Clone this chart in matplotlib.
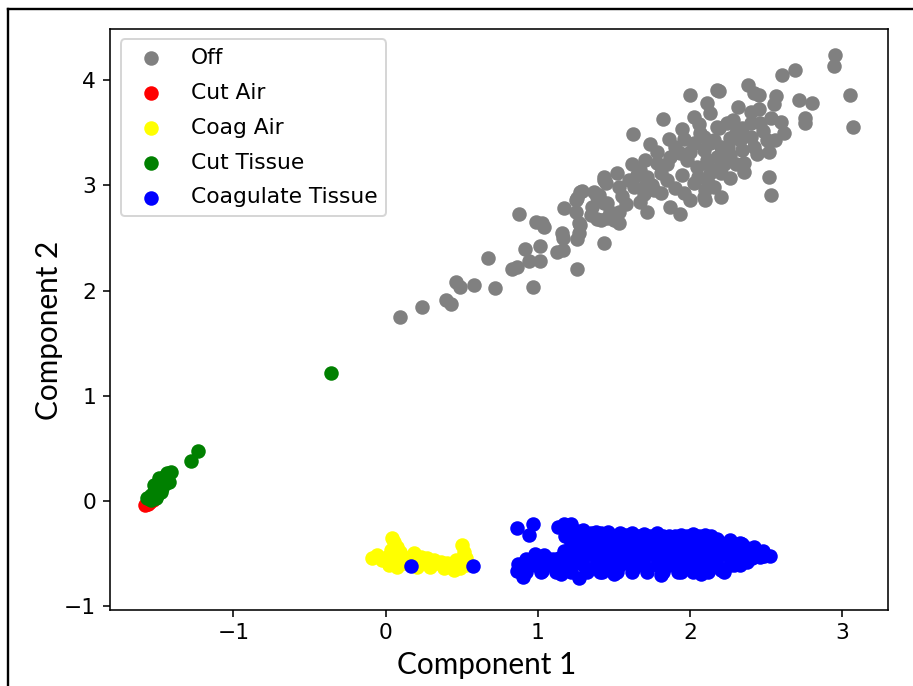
import matplotlib
matplotlib.use("Agg")
import matplotlib.pyplot as plt
from matplotlib.lines import Line2D

# PCA scores (component 1, component 2)
off_pts = [
    (0.094, 1.751), (0.241, 1.846), (0.394, 1.910), (0.427, 1.872), (0.460, 2.084), (0.492, 2.036),
    (0.580, 2.052), (0.722, 2.021), (0.672, 2.306), (0.832, 2.201), (0.860, 2.220), (0.970, 2.036),
    (0.941, 2.280), (1.013, 2.280), (0.919, 2.391), (1.013, 2.423), (0.875, 2.724), (0.985, 2.654),
    (1.039, 2.606), (1.029, 2.638), (1.123, 2.369), (1.167, 2.385), (1.167, 2.496), (1.259, 2.201),
    (1.259, 2.486), (1.171, 2.781), (1.248, 2.749), (1.269, 2.638), (1.280, 2.622), (1.259, 2.876),
    (1.292, 2.948), (1.368, 2.939), (1.401, 2.907), (1.357, 2.796), (1.390, 2.677), (1.433, 2.448),
    (1.433, 3.050), (1.456, 2.829), (1.456, 2.686),
    (1.998, 3.857), (2.178, 3.905), (2.112, 3.784), (2.134, 3.689), (1.823, 3.629), (2.024, 3.646),
    (1.948, 3.532), (1.626, 3.484), (1.740, 3.392), (2.068, 3.494), (2.178, 3.556), (1.904, 3.366),
    (1.937, 3.304), (1.871, 3.271), (1.707, 3.240), (1.784, 3.209), (1.674, 3.145), (1.653, 3.097),
    (1.718, 3.081), (1.806, 3.114), (1.850, 3.050), (1.630, 2.986), (1.696, 2.986), (1.762, 2.955),
    (1.806, 2.924), (1.674, 2.844), (1.714, 2.749), (1.871, 2.796), (1.937, 2.727), (1.959, 2.924),
    (2.024, 3.019), (2.090, 2.891), (2.156, 2.986), (1.981, 3.240), (2.047, 3.176), (2.112, 3.240),
    (2.178, 3.145), (2.024, 3.399), (2.090, 3.335), (2.156, 3.430), (1.532, 2.986), (1.433, 3.081),
    (1.445, 3.019), (1.280, 2.939), (1.248, 2.860), (1.390, 2.891), (1.433, 2.829), (1.477, 2.749),
    (1.532, 2.749), (1.412, 2.670), (1.499, 2.670), (1.532, 2.638), (1.269, 2.543), (1.160, 2.543),
    (2.955, 4.238), (2.944, 4.133), (2.687, 4.095), (2.605, 4.048), (2.381, 3.952), (2.418, 3.874),
    (2.451, 3.857), (2.193, 3.898), (2.567, 3.848), (2.554, 3.772), (2.714, 3.810), (2.802, 3.779),
    (3.049, 3.857), (3.068, 3.556), (2.758, 3.636), (2.758, 3.589), (2.313, 3.746), (2.451, 3.722),
    (2.532, 3.636), (2.462, 3.589), (2.397, 3.589), (2.342, 3.541), (2.244, 3.589), (2.188, 3.541),
    (2.615, 3.494), (2.561, 3.430), (2.506, 3.430), (2.517, 3.319), (2.418, 3.366), (2.331, 3.430),
    (2.265, 3.446), (2.200, 3.366), (2.134, 3.399), (2.090, 3.461), (2.353, 3.209), (2.353, 3.129),
    (2.265, 3.287), (2.178, 3.271), (2.112, 3.209), (2.134, 3.114), (2.200, 3.114), (2.265, 3.066),
    (2.517, 3.076), (2.532, 2.907), (2.200, 2.891), (2.101, 2.955), (2.101, 2.860),
    (1.55, 2.90), (1.60, 3.05), (1.75, 3.00), (1.85, 3.20), (1.95, 3.10), (2.00, 3.32),
    (2.05, 3.08), (1.90, 2.97), (2.25, 3.36), (2.30, 3.50), (2.40, 3.46), (2.44, 3.30),
    (2.22, 3.20), (2.30, 3.20), (1.86, 3.44), (1.96, 3.44), (2.40, 3.70), (2.60, 3.60),
    (1.70, 2.92), (1.58, 2.82), (1.35, 2.72), (1.62, 3.20), (1.78, 3.32), (2.06, 3.58),
    (2.12, 3.02), (2.00, 2.86), (1.52, 3.12), (2.34, 3.34), (2.48, 3.52), (2.28, 3.62),
]

cut_air_pts = [(-1.58, -0.04), (-1.56, -0.03), (-1.55, -0.01), (-1.53, 0.01)]

coag_air_pts = [
    (-0.087, -0.545), (-0.055, -0.513), (-0.022, -0.561), (0.011, -0.529), (0.033, -0.466),
    (0.055, -0.387), (0.044, -0.355), (0.077, -0.434), (0.098, -0.481), (0.022, -0.608),
    (0.077, -0.624), (0.120, -0.592), (0.153, -0.576), (0.186, -0.497), (0.230, -0.529),
    (0.274, -0.545), (0.317, -0.561), (0.361, -0.576), (0.405, -0.592), (0.427, -0.624),
    (0.471, -0.608), (0.208, -0.624), (0.295, -0.624), (0.383, -0.640), (0.503, -0.418),
    (0.514, -0.481), (0.525, -0.545), (0.492, -0.640), (0.449, -0.656), (0.525, -0.608),
    (0.208, -0.576), (0.339, -0.592), (0.25, -0.58), (0.14, -0.54), (0.06, -0.50), (0.46, -0.56),
]

cut_tissue_pts = [
    (-1.232, 0.475), (-1.276, 0.383), (-1.565, 0.026), (-1.543, 0.057), (-1.521, 0.088),
    (-1.499, 0.136), (-1.477, 0.183), (-1.456, 0.231), (-1.433, 0.263), (-1.412, 0.278),
    (-1.423, 0.183), (-1.477, 0.088), (-1.510, 0.026), (-1.543, 0.010), (-1.489, 0.216),
    (-1.445, 0.168), (-1.521, 0.152), (-1.466, 0.121), (-1.499, 0.057), (-0.361, 1.216),
]

coag_tissue_pts = [
    (0.164, -0.618), (0.576, -0.618),
    (0.860, -0.260), (0.970, -0.219), (0.941, -0.323),
    (1.13, -0.25), (1.17, -0.22), (1.22, -0.22), (1.26, -0.28),
    (1.346, -0.30), (1.412, -0.30), (1.477, -0.35), (1.576, -0.32), (1.674, -0.35), (1.784, -0.34),
    (1.871, -0.38), (1.959, -0.37), (2.112, -0.35), (2.200, -0.40), (2.287, -0.42), (2.375, -0.45),
    (2.484, -0.52), (2.528, -0.52),
    (0.86, -0.66), (0.90, -0.72), (1.03, -0.66), (1.15, -0.69), (1.27, -0.73), (1.41, -0.67),
    (1.50, -0.69), (1.63, -0.64), (1.81, -0.70), (1.94, -0.67), (2.07, -0.69), (2.20, -0.65),
    (2.29, -0.61), (2.375, -0.58), (2.46, -0.53),
    (0.87, -0.60), (0.92, -0.55), (0.98, -0.50), (1.04, -0.51), (1.10, -0.55), (1.17, -0.47), (1.22, -0.40),
    (1.18, -0.33), (1.26, -0.33), (1.34, -0.33), (1.42, -0.33), (1.50, -0.33), (1.58, -0.33), (1.66, -0.33),
    (1.74, -0.33), (1.82, -0.33), (1.90, -0.33), (1.98, -0.33), (2.06, -0.33), (2.14, -0.33),
    (1.30, -0.40), (1.38, -0.40), (1.46, -0.40), (1.54, -0.40), (1.62, -0.40), (1.70, -0.40),
    (1.78, -0.40), (1.86, -0.40), (1.94, -0.40), (2.02, -0.40), (2.10, -0.40), (2.18, -0.40),
    (2.26, -0.40), (2.33, -0.40),
    (1.24, -0.47), (1.32, -0.47), (1.40, -0.47), (1.48, -0.47), (1.56, -0.47), (1.64, -0.47),
    (1.72, -0.47), (1.80, -0.47), (1.88, -0.47), (1.96, -0.47), (2.04, -0.47), (2.12, -0.47),
    (2.20, -0.47), (2.28, -0.47), (2.36, -0.47), (2.44, -0.47),
    (1.06, -0.54), (1.14, -0.54), (1.22, -0.54), (1.30, -0.54), (1.38, -0.54), (1.46, -0.54),
    (1.54, -0.54), (1.62, -0.54), (1.70, -0.54), (1.78, -0.54), (1.86, -0.54), (1.94, -0.54),
    (2.02, -0.54), (2.10, -0.54), (2.18, -0.54), (2.26, -0.54), (2.34, -0.54), (2.41, -0.54),
    (0.90, -0.61), (0.98, -0.61), (1.06, -0.61), (1.14, -0.61), (1.22, -0.61), (1.30, -0.61),
    (1.38, -0.61), (1.46, -0.61), (1.54, -0.61), (1.62, -0.61), (1.70, -0.61), (1.78, -0.61),
    (1.86, -0.61), (1.94, -0.61), (2.02, -0.61), (2.10, -0.61), (2.18, -0.61), (2.26, -0.61),
    (2.33, -0.61),
    (0.92, -0.67), (1.02, -0.67), (1.12, -0.67), (1.22, -0.67), (1.32, -0.67), (1.42, -0.67),
    (1.52, -0.67), (1.62, -0.67), (1.72, -0.67), (1.82, -0.67), (1.92, -0.67), (2.02, -0.67),
    (2.12, -0.67), (2.22, -0.67),
    (1.22, -0.29), (1.30, -0.27), (1.38, -0.29), (1.46, -0.29), (1.54, -0.30), (1.62, -0.30),
    (1.70, -0.31), (1.78, -0.30), (1.86, -0.33), (1.94, -0.32), (2.02, -0.31), (2.10, -0.32),
    (2.18, -0.36), (2.26, -0.37), (2.34, -0.41), (2.42, -0.44), (2.48, -0.47),
]

groups = [
    ("Off", "gray", off_pts),
    ("Cut Air", "red", cut_air_pts),
    ("Coag Air", "yellow", coag_air_pts),
    ("Cut Tissue", "green", cut_tissue_pts),
    ("Coagulate Tissue", "blue", coag_tissue_pts),
]

dpi = 142.6
fig = plt.figure(figsize=(913 / dpi, 686 / dpi), dpi=dpi)
ax = fig.add_axes([110 / 913, 1 - 609.5 / 686, 778 / 913, 581 / 686])

for label, color, pts in groups:
    xs = [p[0] for p in pts]
    ys = [p[1] for p in pts]
    ax.scatter(xs, ys, c=color, s=40, label=label)

ax.set_xlim(-1.81, 3.30)
ax.set_ylim(-1.03, 4.49)
ax.set_xticks([-1, 0, 1, 2, 3])
ax.set_yticks([-1, 0, 1, 2, 3, 4])
ax.tick_params(labelsize=11)
ax.set_xlabel("Component 1", fontsize=15, family="Lato")
ax.set_ylabel("Component 2", fontsize=15, family="Lato")
ax.xaxis.set_label_coords(0.484, -0.072)
ax.yaxis.set_label_coords(-0.060, 0.48)
ax.legend(loc="upper left", fontsize=11, labelspacing=0.68)

# black frame around the picture (right and bottom edges fall outside)
fig.add_artist(Line2D([8 / 913, 8 / 913], [0, 1 - 9 / 686], color="black", lw=1.2))
fig.add_artist(Line2D([8 / 913, 1], [1 - 9 / 686, 1 - 9 / 686], color="black", lw=1.2))

fig.savefig("out.png", dpi=dpi)
